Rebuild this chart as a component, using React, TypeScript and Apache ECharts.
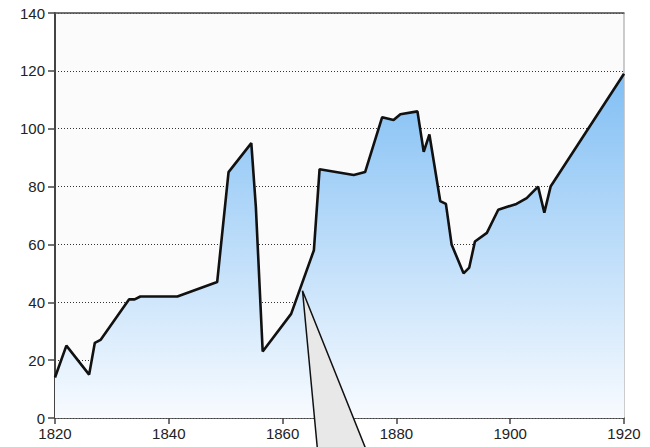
import React, { useEffect, useRef } from "react";
import * as echarts from "echarts";

const years = [
  1820, 1822, 1826, 1827, 1828, 1833, 1834, 1835, 1841.5, 1848.5, 1850.5,
  1854.5, 1855.3, 1856.5, 1861.5, 1865.5, 1866.5, 1872.5, 1874.5, 1877.5,
  1879.5, 1880.7, 1883.7, 1884.8, 1885.8, 1887.7, 1888.7, 1889.7, 1891.8,
  1892.8, 1893.8, 1895.9, 1897.9, 1901.1, 1902.9, 1904.9, 1906, 1907.1, 1920,
];
const values = [
  14, 25, 15, 26, 27, 41, 41, 42, 42, 47, 85, 95, 73, 23, 36, 58, 86, 84, 85,
  104, 103, 105, 106, 92, 98, 75, 74, 60, 50, 52, 61, 64, 72, 74, 76, 80, 71,
  80, 119,
];
const xTicks = [1820, 1840, 1860, 1880, 1900, 1920];
const yTicks = [0, 20, 40, 60, 80, 100, 120, 140];
const calloutAnchor = [1863.5, 44];

const FONT = "'Liberation Sans Narrow', 'Arial Narrow', 'Liberation Sans', Arial, sans-serif";

export default function App() {
  const ref = useRef<HTMLDivElement>(null);
  useEffect(() => {
    document.body.style.margin = "0";
    const chart = echarts.init(ref.current!, null, { renderer: "svg" });
    const data = years.map((y, i) => [y, values[i]]);
    const labelStyle = { color: "#222", fontSize: 15, fontFamily: FONT };
    chart.setOption({
      animation: false,
      backgroundColor: "#ffffff",
      grid: {
        left: 55,
        right: 26,
        top: 13,
        bottom: 29,
        show: true,
        backgroundColor: "#fbfbfb",
        borderColor: "#999",
        borderWidth: 1,
      },
      xAxis: [
        {
          type: "value",
          min: xTicks[0],
          max: xTicks[xTicks.length - 1],
          interval: 20,
          axisLine: { show: true, onZero: false, lineStyle: { color: "#444", width: 1.5 } },
          axisTick: { show: true, length: 6, lineStyle: { color: "#444", width: 1.5 } },
          axisLabel: { ...labelStyle, margin: 8, formatter: (v: number) => String(v) },
          splitLine: { show: false },
        },
        {
          type: "value",
          position: "top",
          min: xTicks[0],
          max: xTicks[xTicks.length - 1],
          axisLine: { show: true, onZero: false, lineStyle: { color: "#555", width: 1.5 } },
          axisTick: { show: false },
          axisLabel: { show: false },
          splitLine: { show: false },
        },
      ],
      yAxis: {
        type: "value",
        min: yTicks[0],
        max: yTicks[yTicks.length - 1],
        interval: 20,
        axisLine: { show: true, lineStyle: { color: "#444", width: 2 } },
        axisTick: { show: true, length: 7, lineStyle: { color: "#444", width: 1.5 } },
        axisLabel: { ...labelStyle, margin: 10 },
        splitLine: { show: true, lineStyle: { color: "#333", type: [1, 2], width: 1 } },
      },
      series: [
        {
          type: "line",
          data,
          symbol: "none",
          lineStyle: { color: "#111", width: 2.6 },
          areaStyle: {
            color: new echarts.graphic.LinearGradient(
              0,
              13,
              0,
              418,
              [
                { offset: 0, color: "#6cb4f2" },
                { offset: 1, color: "#f8fbff" },
              ],
              true
            ),
            opacity: 1,
          },
        },
      ],
    });
    const p = chart.convertToPixel({ seriesIndex: 0 }, calloutAnchor) as number[];
    chart.setOption({
      graphic: [
        {
          type: "polygon",
          z: 100,
          shape: {
            points: [
              [p[0], p[1]],
              [p[0] + 16, p[1] + 170],
              [p[0] + 68, p[1] + 170],
            ],
          },
          style: { fill: "#e8e8e8", stroke: "#111", lineWidth: 1.5 },
        },
      ],
    });
    return () => chart.dispose();
  }, []);
  return (
    <div
      ref={ref}
      style={{ position: "absolute", left: 0, top: 0, width: 650, height: 447 }}
    />
  );
}
